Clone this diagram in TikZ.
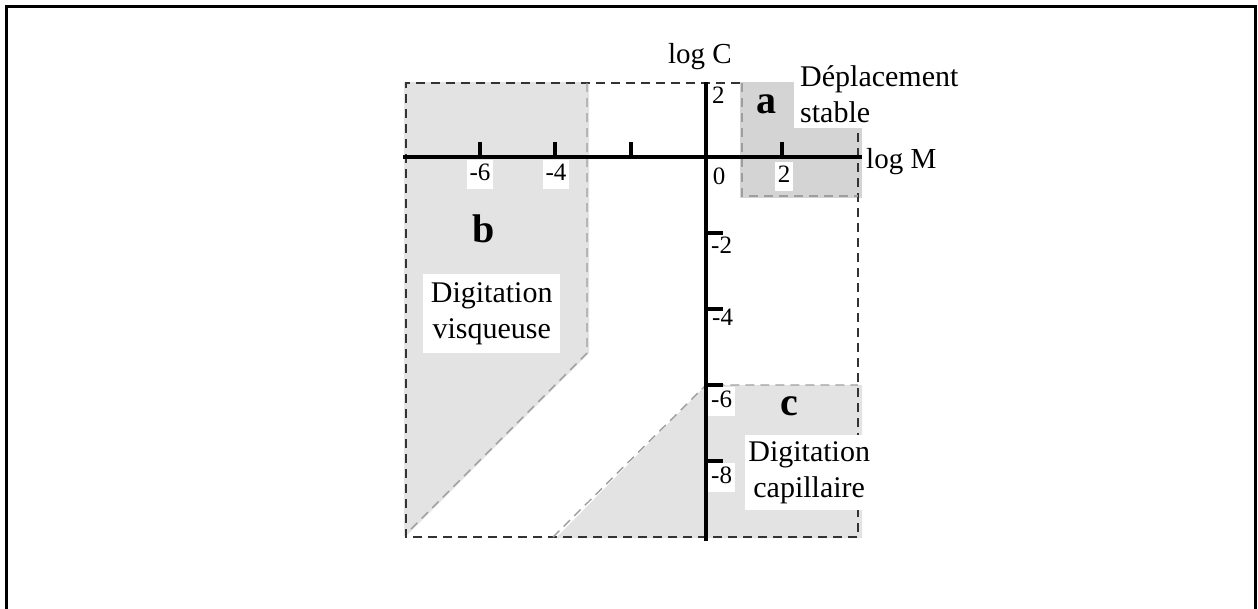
\documentclass[tikz,border=0pt]{standalone}
\usepackage{fontspec}
\setmainfont{Liberation Serif}
\begin{document}
\begin{tikzpicture}[x=1pt,y=-1pt,
  frame/.style={line width=3pt},
  outerdash/.style={draw=black!80, line width=1.4pt, dash pattern=on 9pt off 6pt},
  innerdash/.style={draw=black!38, line width=1.4pt, dash pattern=on 9pt off 6pt},
  axisline/.style={line width=3.2pt},
  tickmark/.style={line width=3.2pt},
  filla/.style={fill=black!17},
  fillb/.style={fill=black!11},
  fillc/.style={fill=black!11},
  ticklab/.style={font=\fontsize{25}{28}\selectfont, fill=white, inner xsep=3pt, inner ysep=3pt, text height=17pt, text depth=6pt},
  plainlab/.style={font=\fontsize{25}{28}\selectfont, inner sep=2pt},
  axlab/.style={font=\fontsize{29}{34}\selectfont, inner sep=0pt},
  biglab/.style={font=\fontsize{30}{36}\selectfont, fill=white, align=center},
  letterlab/.style={font=\fontsize{40}{42}\selectfont\bfseries, inner sep=0pt}
]
\useasboundingbox (0,0) rectangle (1258,608);
% frame
\draw[frame] (6,614) -- (6,6) -- (1255,6) -- (1255,614);
% region fills
\fill[fillb] (404,82) -- (589,82) -- (589,353) -- (406,536) -- (404,536) -- cycle;
\fill[fillc] (706,385) -- (862,385) -- (862,538) -- (556,538) -- cycle;
\fill[filla] (740,82) rectangle (862,198);
% outer dashed frame
\draw[outerdash] (740,83) -- (406,83) -- (406,537) -- (858,537) -- (858,130);
% inner boundaries
\draw[innerdash] (587,83) -- (587,353) -- (408,532);
\draw[innerdash] (553,537) -- (706,385) -- (858,385);
\draw[innerdash] (742,83) -- (742,196) -- (858,196);
% axes
\coordinate (xl) at (403,157);
\coordinate (xr) at (862,157);
\coordinate (yt) at (706,82);
\coordinate (yb) at (706,541);
\draw[axisline] (xl) -- (xr);
\draw[axisline] (yt) -- (yb);
% ticks
\foreach \x in {480,555,631,782} \draw[tickmark] (\x,157) -- (\x,142);
\foreach \y in {233,309,385,461} \draw[tickmark] (706,\y) -- (723,\y);
% tick labels
\node[ticklab, anchor=base] (hm6) at (480,180) {-6};
\node[ticklab, anchor=base] (hm4) at (556,180) {-4};
\node[ticklab, anchor=base] (hp2) at (784,182) {2};
\node[plainlab, anchor=base] (hz) at (719,184) {0};
\node[plainlab, anchor=base west] (vp2) at (710,103) {2};
\node[plainlab, anchor=base west] (vm2) at (709,253) {-2};
\node[plainlab, anchor=base west] (vm4) at (710,325) {-4};
\node[ticklab, anchor=base west] (vm6) at (708,407) {-6};
\node[ticklab, anchor=base west] (vm8) at (708,483) {-8};
% axis labels
\node[axlab, anchor=base] (logc) at (700,63) {log C};
\node[axlab, anchor=base west] (logm) at (866,168) {log M};
% region letters
\node[letterlab, anchor=base] (la) at (766,113) {a};
\node[letterlab, anchor=base] (lb) at (484,242) {b};
\node[letterlab, anchor=base] (lcc) at (789,415) {c};
% region labels
\node[biglab, align=left, anchor=south west, inner xsep=6pt, inner ysep=5pt] (da) at (794,128) {Déplacement\\stable};
\node[biglab, anchor=north west, minimum width=137pt, minimum height=79pt, inner sep=0pt] (db) at (423,274) {Digitation\\visqueuse};
\node[biglab, anchor=north west, minimum width=128pt, minimum height=75pt, inner sep=0pt] (dc) at (745,435) {Digitation\\capillaire};
\end{tikzpicture}
\end{document}
